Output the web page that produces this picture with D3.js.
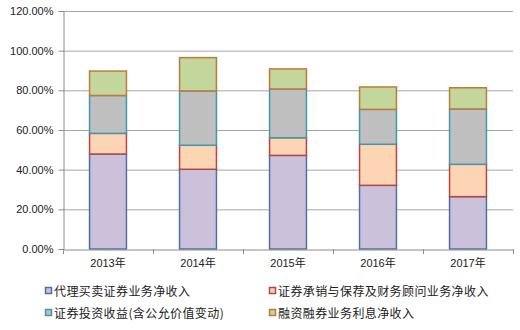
<!DOCTYPE html>
<html>
<head>
<meta charset="utf-8">
<script src="https://cdn.jsdelivr.net/npm/d3@7/dist/d3.min.js"></script>
<style>
  html, body { margin: 0; padding: 0; background: #fff; }
  svg { display: block; }
</style>
</head>
<body>
<svg id="chart" width="520" height="330"></svg>
<script>
// Revenue structure by year (share of total operating income, %)
const years = ["2013年", "2014年", "2015年", "2016年", "2017年"];
const seriesNames = [
  "代理买卖证券业务净收入",
  "证券承销与保荐及财务顾问业务净收入",
  "证券投资收益(含公允价值变动)",
  "融资融券业务利息净收入"
];
const brokerage   = [47.9, 40.2, 47.2, 32.1, 26.4];
const underwriting = [10.4, 12.1, 8.9, 20.7, 16.3];
const investment  = [19.1, 27.4, 24.6, 17.6, 27.9];
const margin      = [12.3, 16.8, 10.1, 11.3, 10.7];
const yTicks = [0, 20, 40, 60, 80, 100, 120];

const fills   = ["#ccc1da", "#fcd5b5", "#bfbfbf", "#c3d69b"];
const strokes = ["#4f6fa8", "#b8453f", "#3f98ad", "#c07a3a"];

const svg = d3.select("#chart");
const m = { left: 63, right: 513, top: 11, bottom: 249 };

const x = d3.scaleBand().domain(years).range([m.left, m.right]).paddingInner(0.59).paddingOuter(0.295);
const y = d3.scaleLinear().domain([0, 120]).range([m.bottom, m.top]);

// gridlines
svg.append("g").selectAll("line").data(yTicks.slice(1)).join("line")
  .attr("x1", m.left).attr("x2", m.right)
  .attr("y1", d => y(d) + 0.5).attr("y2", d => y(d) + 0.5)
  .attr("stroke", "#a6a6a6").attr("stroke-width", 1);

// stacked bars
const rows = years.map((yr, i) => ({
  year: yr, s0: brokerage[i], s1: underwriting[i], s2: investment[i], s3: margin[i]
}));
const stack = d3.stack().keys(["s0", "s1", "s2", "s3"])(rows);

svg.append("g").selectAll("g").data(stack).join("g")
  .attr("fill", (d, i) => fills[i])
  .attr("stroke", (d, i) => strokes[i])
  .attr("stroke-width", 1.5)
  .selectAll("rect").data(d => d).join("rect")
  .attr("x", d => x(d.data.year))
  .attr("width", x.bandwidth())
  .attr("y", d => y(d[1]))
  .attr("height", d => y(d[0]) - y(d[1]));

// y axis
const yAxis = d3.axisLeft(y).tickValues(yTicks).tickSize(5).tickPadding(5)
  .tickFormat(d => d3.format(".2f")(d) + "%");
const gy = svg.append("g").attr("transform", `translate(${m.left + 0.5},0)`).call(yAxis);
gy.select(".domain").attr("stroke", "#8c8c8c");
gy.selectAll(".tick line").attr("stroke", "#8c8c8c");
gy.selectAll(".tick text")
  .attr("font-family", "'Liberation Sans', Arial, sans-serif")
  .attr("font-size", 11).attr("fill", "#222");

// x axis
const xAxis = d3.axisBottom(x).tickSize(0).tickPadding(10);
const gx = svg.append("g").attr("transform", `translate(0,${m.bottom + 0.5})`).call(xAxis);
gx.select(".domain").attr("stroke", "#8c8c8c");
gx.selectAll(".tick text")
  .attr("font-family", "'Liberation Sans', 'Noto Sans CJK SC', sans-serif")
  .attr("font-size", 11).attr("fill", "#222");
// category separators below the axis
const step = x.step();
svg.append("g").selectAll("line").data(d3.range(years.length + 1)).join("line")
  .attr("x1", d => m.left + d * step + 0.5).attr("x2", d => m.left + d * step + 0.5)
  .attr("y1", m.bottom).attr("y2", m.bottom + 5)
  .attr("stroke", "#8c8c8c");

// legend
const legendPos = [
  { x: 45, y: 292 }, { x: 269, y: 292 },
  { x: 45, y: 314 }, { x: 269, y: 314 }
];
const lg = svg.append("g").selectAll("g").data(seriesNames).join("g")
  .attr("transform", (d, i) => `translate(${legendPos[i].x},${legendPos[i].y})`);
lg.append("rect")
  .attr("x", 0.5).attr("y", -4.5).attr("width", 6).attr("height", 6)
  .attr("fill", (d, i) => fills[i]).attr("stroke", (d, i) => strokes[i]).attr("stroke-width", 1.5);
lg.append("text")
  .attr("x", 9).attr("y", 0).attr("dy", "0.35em")
  .attr("font-family", "'Noto Sans CJK SC', sans-serif")
  .attr("font-size", 12).attr("letter-spacing", 0.4).attr("fill", "#222")
  .text(d => d);
</script>
</body>
</html>
